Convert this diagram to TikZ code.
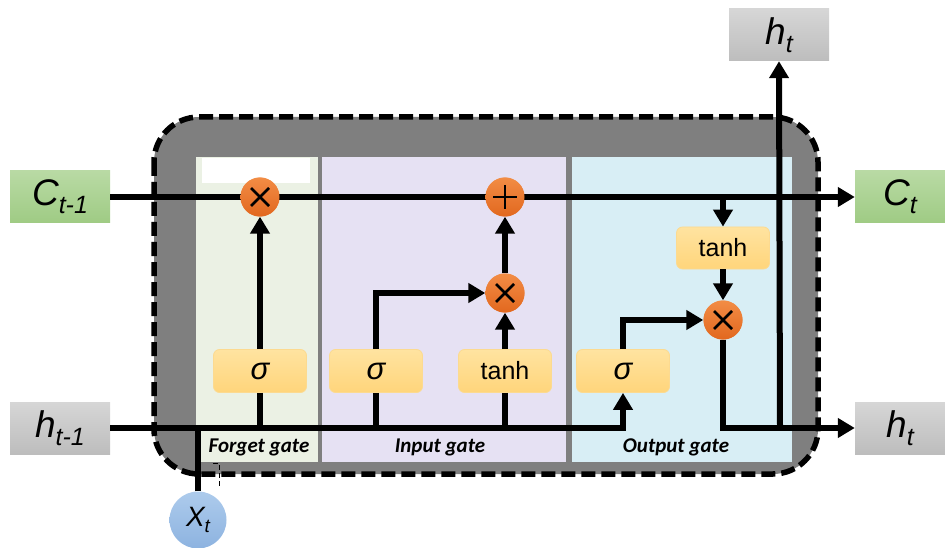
\documentclass[tikz,border=0pt]{standalone}
\usepackage{fontspec}
\setmainfont{Liberation Sans}
\newfontfamily\gatefont{Carlito}
\usetikzlibrary{arrows.meta}

\definecolor{cellgray}{HTML}{7F7F7F}
\definecolor{forgetbg}{HTML}{EBF1E4}
\definecolor{inputbg}{HTML}{E6E1F3}
\definecolor{outputbg}{HTML}{D8EEF5}
\definecolor{gateTop}{HTML}{FFE3A0}
\definecolor{gateBot}{HTML}{FFD57B}
\definecolor{gateEdge}{HTML}{FCDA90}
\definecolor{opTop}{HTML}{F28C45}
\definecolor{opBot}{HTML}{E2681E}
\definecolor{cTop}{HTML}{B9DAA4}
\definecolor{cBot}{HTML}{9FCB84}
\definecolor{hTop}{HTML}{D6D6D6}
\definecolor{hBot}{HTML}{BDBDBD}
\definecolor{xTop}{HTML}{ADCBEC}
\definecolor{xBot}{HTML}{8DB3E0}

% label helpers: big italic letter with a lowered subscript
\newcommand{\biglbl}[2]{{\fontsize{37}{37}\selectfont\itshape #1\raisebox{-8pt}{\fontsize{25}{25}\selectfont #2}}}
\newcommand{\xlbl}[2]{{\fontsize{28}{28}\selectfont\itshape #1\raisebox{-6pt}{\fontsize{19}{19}\selectfont #2}}}
\newcommand{\sigmalbl}{{\fontsize{31}{31}\selectfont\itshape σ}}

\begin{document}
\begin{tikzpicture}[x=1pt,y=-1pt,
  wire/.style={line width=6pt},
  arr/.style={wire,-{Triangle[length=17pt,width=19pt]}},
  gatebox/.style={rounded corners=6pt,draw=gateEdge,line width=0.8pt,
    top color=gateTop,bottom color=gateBot,minimum width=93pt,minimum height=43pt,
    inner sep=0pt,font=\fontsize{25}{25}\selectfont},
  op/.style={circle,minimum size=39pt,inner sep=0pt,top color=opTop,bottom color=opBot},
  mulop/.style={op,path picture={
    \draw[line width=2.6pt]
      ([shift={(-9,-9)}]path picture bounding box.center) -- ([shift={(9,9)}]path picture bounding box.center)
      ([shift={(-9,9)}]path picture bounding box.center) -- ([shift={(9,-9)}]path picture bounding box.center);}},
  addop/.style={op,path picture={
    \draw[line width=2.6pt]
      ([shift={(-12,0)}]path picture bounding box.center) -- ([shift={(12,0)}]path picture bounding box.center)
      ([shift={(0,-12)}]path picture bounding box.center) -- ([shift={(0,12)}]path picture bounding box.center);}},
  cbox/.style={minimum width=100pt,minimum height=52pt,inner sep=0pt,top color=cTop,bottom color=cBot},
  hbox/.style={minimum width=100pt,minimum height=52pt,inner sep=0pt,top color=hTop,bottom color=hBot},
  gatelbl/.style={font=\gatefont\bfseries\itshape\fontsize{21}{21}\selectfont}
]
\useasboundingbox (0,0) rectangle (945,548);

% cell body and the three gate panels
\fill[cellgray,rounded corners=45pt] (154,117) rectangle (818,474);
\fill[forgetbg] (196,157) rectangle (318,462);
\fill[white] (202,158) rectangle (310,183);
\fill[inputbg] (322,157) rectangle (566,462);
\fill[outputbg] (572,157) rectangle (792,462);
\draw[line width=5.5pt,dash pattern=on 14pt off 6pt,rounded corners=45pt]
  (154,117) rectangle (818,474);
% small tick below the forget panel
\draw[line width=1pt,dash pattern=on 5pt off 3pt] (213,463) -- (219,463) -- (219,486);

% inputs and outputs
\node[cbox] (cin) at (60,197) {\biglbl{C}{t-1}};
\node[cbox,minimum width=90pt] (cout) at (900,197) {\biglbl{C}{t}};
\node[hbox] (hin) at (60,428) {\biglbl{h}{t-1}};
\node[hbox,minimum width=90pt] (hout) at (900,428) {\biglbl{h}{t}};
\node[hbox] (htop) at (779,35) {\biglbl{h}{t}};
\node[circle,minimum size=57pt,inner sep=0pt,top color=xTop,bottom color=xBot] (xt) at (198,520) {\xlbl{X}{t}};

% gate activations
\node[gatebox] (sf) at (260,371) {\sigmalbl};
\node[gatebox] (si) at (376,371) {\sigmalbl};
\node[gatebox] (ti) at (505,371) {tanh};
\node[gatebox] (so) at (623,371) {\sigmalbl};
\node[gatebox,minimum height=42pt] (to) at (723,248) {tanh};

% pointwise operations
\node[mulop] (fx) at (260,197) {};
\node[addop] (plus) at (505,197) {};
\node[mulop] (ix) at (505,293) {};
\node[mulop] (ox) at (723,320) {};

\coordinate (ctap) at (723,197);
\coordinate (hjoin) at (780,428);

% cell state line
\draw[arr] (cin.east) -- (cout.west);

% hidden/input bus
\draw[arr] (hin.east) -| (so.south);
\draw[wire] (xt.north) -- (xt.north |- hin.east);
\draw[wire] (sf.south) -- (sf.south |- hin.east);
\draw[wire] (si.south) -- (si.south |- hin.east);
\draw[wire] (ti.south) -- (ti.south |- hin.east);

% gate connections
\draw[arr] (sf.north) -- (fx.south);
\draw[arr] (si.north) |- (ix.west);
\draw[arr] (ti.north) -- (ix.south);
\draw[arr] (ix.north) -- (plus.south);
\draw[arr] (so.north) |- (ox.west);
\draw[arr] (ctap) -- (to.north);
\draw[arr] (to.south) -- (ox.north);
\draw[arr] (ox.south) |- (hout.west);
\draw[arr] (hjoin) -- (htop.south);

% redraw operators above the wires
\node[mulop] at (fx) {};
\node[addop] at (plus) {};
\node[mulop] at (ix) {};
\node[mulop] at (ox) {};

% gate names
\node[gatelbl] at (259,447) {Forget gate};
\node[gatelbl] at (440,447) {Input gate};
\node[gatelbl] at (676,447) {Output gate};
\end{tikzpicture}
\end{document}
